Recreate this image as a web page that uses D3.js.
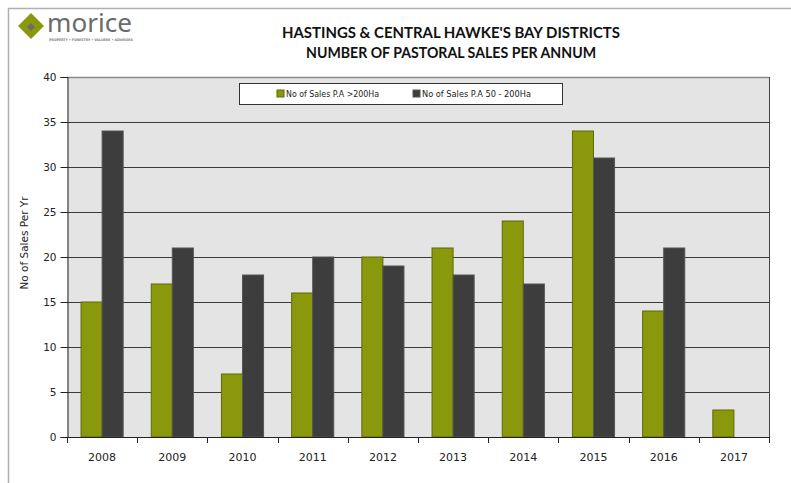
<!DOCTYPE html>
<html><head><meta charset="utf-8">
<script src="https://cdn.jsdelivr.net/npm/d3@7/dist/d3.min.js"></script>
<style>body{margin:0;background:#fff}svg{display:block}</style>
</head><body>
<script>
const years = ["2008","2009","2010","2011","2012","2013","2014","2015","2016","2017"];
const seriesNames = ["No of Sales P.A >200Ha","No of Sales P.A 50 - 200Ha"];
const salesOver200 = [15,17,7,16,20,21,24,34,14,3];
const sales50to200 = [34,21,18,20,19,18,17,31,21,0];
const yTicks = [0,5,10,15,20,25,30,35,40];
const titleLines = ["HASTINGS & CENTRAL HAWKE'S BAY DISTRICTS","NUMBER OF PASTORAL SALES PER ANNUM"];
const colors = ["#8a990b","#3d3d3d"];
const strokes = ["#5d6a05","#555555"];

const W = 791, H = 483;
const svg = d3.select("body").append("svg").attr("width",W).attr("height",H);
svg.append("rect").attr("width",W).attr("height",H).attr("fill","#fff");
// frame
svg.append("path").attr("d","M8.5,483 V8.5 H791").attr("fill","none").attr("stroke","#b0b0b0").attr("stroke-width",1.5);

// logo
const lg = svg.append("g");
lg.append("path").attr("d","M18,26 L31,13 L44,26 L31,39 Z").attr("fill","#8a990b");
lg.append("path").attr("d","M27,27 L31,23 L35,27 L31,31 Z").attr("fill","#6b6b6b");
lg.append("text").attr("x",47).attr("y",32).attr("font-family","Noto Sans, sans-serif").attr("font-size",25)
  .attr("textLength",85).attr("lengthAdjust","spacingAndGlyphs").attr("fill","#6a6a6a").text("morice");
lg.append("text").attr("x",49).attr("y",41).attr("font-family","DejaVu Sans, sans-serif").attr("font-size",3.4).attr("fill","#888").attr("font-weight","bold").attr("textLength",84).text("PROPERTY • FORESTRY • VALUERS • ADVISORS");

// title
svg.selectAll("text.title").data(titleLines).join("text").attr("class","title")
  .attr("x",451).attr("y",(d,i)=>38+i*20).attr("text-anchor","middle")
  .attr("font-family","Lato, sans-serif").attr("font-weight","bold").attr("font-size",16).attr("fill","#111")
  .attr("textLength",(d,i)=>i===0?338:290).attr("lengthAdjust","spacingAndGlyphs").text(d=>d);

const x0 = 67, x1 = 769, yTop = 77, yBot = 437;
const x = d3.scaleBand().domain(years).range([x0,x1]).padding(0);
const sub = d3.scaleBand().domain([0,1]).range([x.bandwidth()*0.2, x.bandwidth()*0.8]);
const y = d3.scaleLinear().domain([0,40]).range([yBot,yTop]);

svg.append("rect").attr("x",x0).attr("y",yTop).attr("width",x1-x0).attr("height",yBot-yTop).attr("fill","#e4e4e4");

// gridlines
svg.append("g").selectAll("line").data(yTicks.filter(t=>t>0)).join("line")
  .attr("x1",x0).attr("x2",x1).attr("y1",d=>Math.round(y(d))+0.5).attr("y2",d=>Math.round(y(d))+0.5)
  .attr("stroke",d=>d===40?"#8a8a8a":"#3a3a3a").attr("stroke-width",d=>d===40?1.5:1);
// right border
svg.append("line").attr("x1",x1+0.5).attr("x2",x1+0.5).attr("y1",yTop).attr("y2",yBot).attr("stroke","#444");

// bars
const data = years.map((yr,i)=>({yr, vals:[salesOver200[i], sales50to200[i]]}));
const g = svg.append("g").selectAll("g").data(data).join("g").attr("transform",d=>`translate(${x(d.yr)},0)`);
g.selectAll("rect").data(d=>d.vals.map((v,k)=>({v,k})).filter(e=>e.v>0)).join("rect")
  .attr("x",d=>sub(d.k)).attr("width",sub.bandwidth())
  .attr("y",d=>y(d.v)).attr("height",d=>y(0)-y(d.v))
  .attr("fill",d=>colors[d.k]).attr("stroke",d=>strokes[d.k]).attr("stroke-width",1);

// axes
const yAxis = d3.axisLeft(y).tickValues(yTicks).tickSize(7).tickPadding(4);
const ya = svg.append("g").attr("transform",`translate(${x0+0.5},0)`).call(yAxis);
ya.select(".domain").attr("stroke","#222");
ya.selectAll(".tick line").attr("stroke","#222");
ya.selectAll("text").attr("font-family","DejaVu Sans, sans-serif").attr("font-size",10.5).attr("fill","#222");

svg.append("line").attr("x1",x0).attr("x2",x1+1).attr("y1",yBot+0.5).attr("y2",yBot+0.5).attr("stroke","#222");
svg.append("g").selectAll("line").data(d3.range(years.length+1)).join("line")
  .attr("x1",i=>Math.round(x0+i*x.step())+0.5).attr("x2",i=>Math.round(x0+i*x.step())+0.5)
  .attr("y1",yBot).attr("y2",yBot+6).attr("stroke","#222");
svg.append("g").selectAll("text").data(years).join("text")
  .attr("x",d=>x(d)+x.bandwidth()/2).attr("y",461).attr("text-anchor","middle")
  .attr("font-family","DejaVu Sans, sans-serif").attr("font-size",11).attr("fill","#222").text(d=>d);

// y label
svg.append("text").attr("transform","translate(28,243) rotate(-90)").attr("text-anchor","middle")
  .attr("font-family","DejaVu Sans, sans-serif").attr("font-size",10.5).attr("fill","#222").text("No of Sales Per Yr");

// legend
const leg = svg.append("g");
leg.append("rect").attr("x",239.5).attr("y",83.5).attr("width",323).attr("height",21).attr("fill","#fff").attr("stroke","#333");
const lx = [277,413];
seriesNames.forEach((n,k)=>{
  leg.append("rect").attr("x",lx[k]).attr("y",90).attr("width",7).attr("height",7).attr("fill",colors[k]).attr("stroke",strokes[k]);
  leg.append("text").attr("x",lx[k]+9).attr("y",97).attr("font-family","DejaVu Sans, sans-serif").attr("font-size",9)
    .attr("textLength",k===0?93:109).attr("lengthAdjust","spacingAndGlyphs").attr("fill","#222").text(n);
});
</script>
</body></html>
